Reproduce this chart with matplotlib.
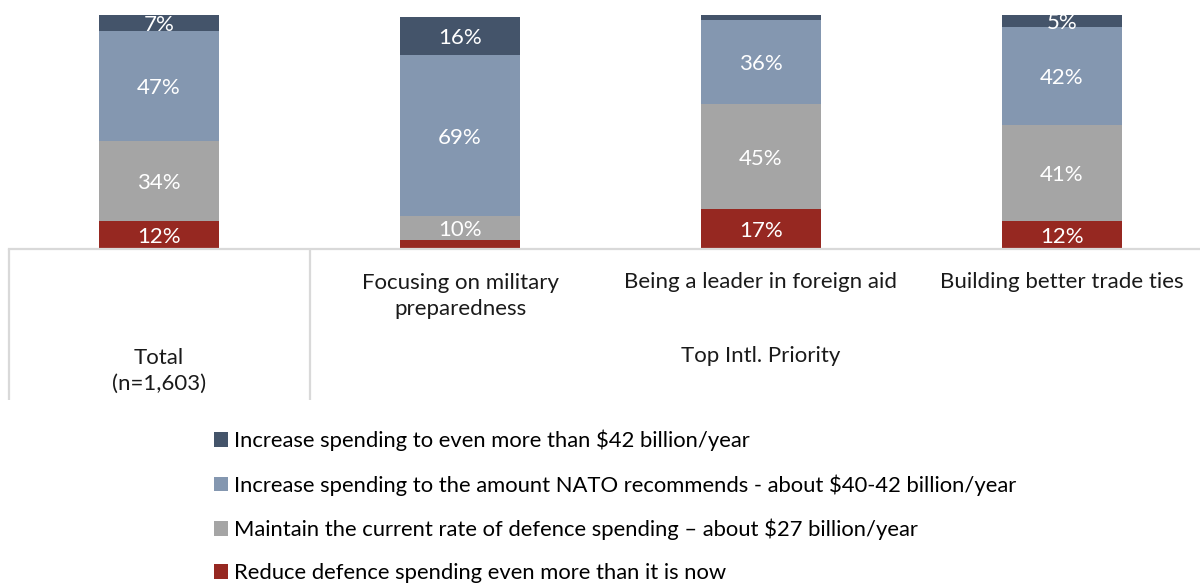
import matplotlib
matplotlib.use("Agg")
import matplotlib.pyplot as plt
from matplotlib.patches import Patch
from matplotlib import transforms

plt.rcParams['font.family'] = ['Lato', 'DejaVu Sans']

# Survey data (% of respondents)
groups = ["Total\n(n=1,603)", "Focusing on military\npreparedness",
          "Being a leader in foreign aid", "Building better trade ties"]
parent_label = "Top Intl. Priority"
series = [
    "Reduce defence spending even more than it is now",
    "Maintain the current rate of defence spending \u2013 about $27 billion/year",
    "Increase spending to the amount NATO recommends - about $40-42 billion/year",
    "Increase spending to even more than $42 billion/year",
]
reduce_vals = [12, 4, 17, 12]
maintain_vals = [34, 10, 45, 41]
nato_vals = [47, 69, 36, 42]
more_vals = [7, 16, 2, 5]
colors = ["#962821", "#A5A5A5", "#8497B0", "#44546A"]

W, H = 1200, 584
fig = plt.figure(figsize=(W / 100, H / 100), dpi=100)

ax_left, ax_bottom_px, ax_top_px = 8.5, 249, 15
slot = 301.0
ax = fig.add_axes([ax_left / W, 1 - ax_bottom_px / H,
                   (W - ax_left) / W, (ax_bottom_px - ax_top_px) / H])
ax.set_xlim(-0.5, -0.5 + (W - ax_left) / slot)
ax.set_ylim(0, 100)

# nudge value labels slightly downward so the digits sit centred
label_shift = transforms.offset_copy(ax.transData, fig=fig, x=0, y=-1.5, units="points")

x = list(range(len(groups)))
bottom = [0] * len(groups)
for vals, col in zip([reduce_vals, maintain_vals, nato_vals, more_vals], colors):
    ax.bar(x, vals, width=0.4, bottom=bottom, color=col, edgecolor="none")
    for xi, b, v in zip(x, bottom, vals):
        if v >= 5:
            t = ax.text(xi, b + v / 2, f"{v}%", ha="center", va="center",
                        color="white", fontsize=16, transform=label_shift)
            t.set_clip_on(True)
            t.set_clip_box(ax.bbox)
    bottom = [b + v for b, v in zip(bottom, vals)]

for s in ["top", "right", "left"]:
    ax.spines[s].set_visible(False)
ax.spines["bottom"].set_color("#D9D9D9")
ax.spines["bottom"].set_linewidth(1.6)
ax.set_xticks([])
ax.set_yticks([])

# Multi-level category axis
tr = transforms.blended_transform_factory(ax.transData, fig.transFigure)
def fy(py):
    return 1 - py / H

for xi, label in zip(x, groups):
    if xi == 0:
        ax.text(xi, fy(371), label, transform=tr, ha="center", va="center",
                fontsize=16, linespacing=1.4, color="#1a1a1a")
    else:
        ax.text(xi, fy(282) if "\n" not in label else fy(296), label,
                transform=tr, ha="center", va="center", fontsize=16,
                linespacing=1.4, color="#1a1a1a")
ax.text(2.0, fy(356), parent_label, transform=tr,
        ha="center", va="center", fontsize=16, color="#1a1a1a")

for xv in [-0.5, 0.5]:
    ax.plot([xv, xv], [fy(249), fy(400)], transform=tr, color="#D9D9D9",
            lw=1.6, clip_on=False, solid_capstyle="butt")

handles = [Patch(facecolor=c, edgecolor="none") for c in colors[::-1]]
fig.legend(handles, series[::-1], loc="upper left",
           bbox_to_anchor=(205 / W, 1 - 421 / H), frameon=False,
           fontsize=15.8, labelspacing=1.05, handlelength=0.64,
           handleheight=0.64, handletextpad=0.28, borderaxespad=0)

fig.savefig("out.png", dpi=100, facecolor="white")
